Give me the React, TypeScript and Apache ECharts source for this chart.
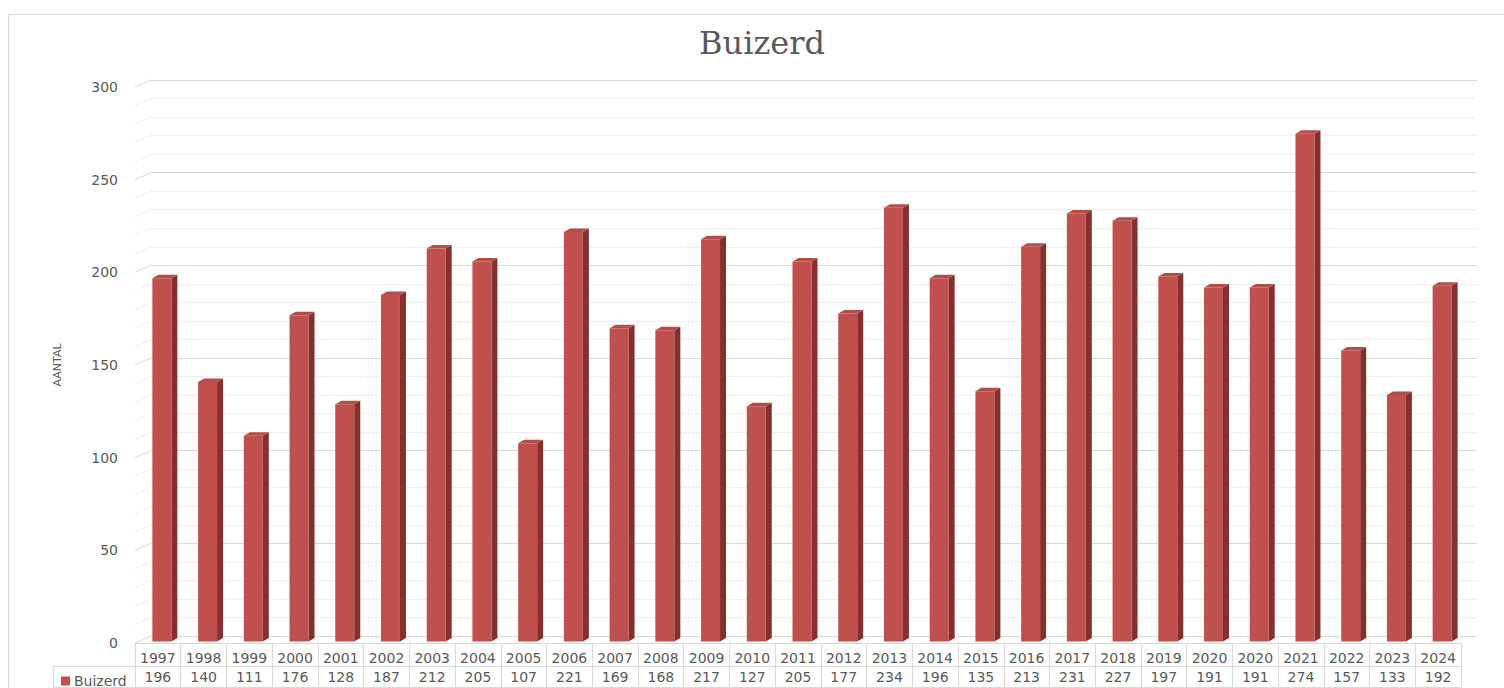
import React, { useEffect, useRef } from "react";
import * as echarts from "echarts";

const seriesName = "Buizerd";
const years = ["1997","1998","1999","2000","2001","2002","2003","2004","2005","2006","2007","2008","2009","2010","2011","2012","2013","2014","2015","2016","2017","2018","2019","2020","2020","2021","2022","2023","2024"];
const counts = [196,140,111,176,128,187,212,205,107,221,169,168,217,127,205,177,234,196,135,213,231,227,197,191,191,274,157,133,192];
const yTicks = [0,10,20,30,40,50,60,70,80,90,100,110,120,130,140,150,160,170,180,190,200,210,220,230,240,250,260,270,280,290,300];

const FRONT = "#c0504d";
const SIDE = "#83302e";
const TOP = "#b84b48";
const TXT = "#595959";
const LINE = "#d9d9d9";
const FONT = "DejaVu Sans";

export default function App() {
  const ref = useRef<HTMLDivElement>(null);
  useEffect(() => {
    document.body.style.margin = "0";
    document.body.style.overflow = "hidden";
    const chart = echarts.init(ref.current!, null, { renderer: "svg" });
    const DX = 16, DY = -7;
    chart.setOption({
      animation: false,
      backgroundColor: "#ffffff",
      title: {
        text: "Buizerd",
        left: 757,
        textAlign: "center",
        top: 22,
        textStyle: { fontFamily: "DejaVu Serif", fontSize: 32, fontWeight: "normal", color: TXT },
      },
      legend: {
        left: 56,
        top: 669,
        icon: "rect",
        itemWidth: 9,
        itemHeight: 9,
        itemGap: 5,
        textStyle: { fontFamily: FONT, fontSize: 14, color: TXT, padding: [0, 0, 0, -1] },
        data: [{ name: seriesName, itemStyle: { color: FRONT } }],
      },
      graphic: [
        { type: "rect", shape: { x: 8.5, y: 14.5, width: 1510, height: 700 }, style: { fill: "none", stroke: LINE, lineWidth: 1 }, silent: true, z: -10 },
        { type: "rect", shape: { x: 53.5, y: 666.5, width: 82, height: 21 }, style: { fill: "none", stroke: LINE, lineWidth: 1 }, silent: true },
      ],
      grid: [
        { left: 135, right: 43, top: 87, bottom: 45 },
        { left: 135 + DX, right: 43 - DX, top: 87 + DY, bottom: 45 - DY },
      ],
      xAxis: [
        {
          type: "category", gridIndex: 0, data: years, position: "bottom",
          axisLine: { show: true, lineStyle: { color: LINE } },
          axisTick: { show: true, interval: 0, length: 44, lineStyle: { color: LINE } },
          axisLabel: { interval: 0, margin: 8, fontFamily: FONT, fontSize: 14, color: TXT },
          splitLine: { show: false },
        },
        {
          type: "category", gridIndex: 0, data: counts.map(String), position: "bottom", offset: 23,
          axisLine: { show: true, lineStyle: { color: LINE } },
          axisTick: { show: false },
          axisLabel: { interval: 0, margin: 4, fontFamily: FONT, fontSize: 14, color: TXT },
        },
        {
          type: "category", gridIndex: 0, data: years, position: "bottom", offset: 44,
          axisLine: { show: true, lineStyle: { color: LINE } },
          axisTick: { show: false },
          axisLabel: { show: false },
        },
        {
          type: "category", gridIndex: 1, data: years, show: false,
        },
      ],
      yAxis: [
        {
          type: "value", gridIndex: 0, min: 0, max: 300, interval: 50,
          axisLine: { show: false }, axisTick: { show: false }, splitLine: { show: false },
          axisLabel: { margin: 17, fontFamily: FONT, fontSize: 14, color: TXT },
          name: "AANTAL", nameLocation: "middle", nameRotate: 90, nameGap: 72,
          nameTextStyle: { fontFamily: FONT, fontSize: 11, color: TXT },
        },
        {
          type: "value", gridIndex: 1, min: 0, max: 300, interval: 10,
          axisLine: { show: false }, axisTick: { show: false }, axisLabel: { show: false },
          splitLine: { show: true, lineStyle: { color: [LINE, "#eeeeee", "#eeeeee", "#eeeeee", "#eeeeee"], width: 1 } },
        },
      ],
      series: [
        {
          type: "custom",
          name: "diagonals",
          xAxisIndex: 0, yAxisIndex: 0,
          silent: true,
          z: 1,
          data: yTicks.map((v) => [0, v]),
          renderItem: (params: any, api: any) => {
            const p = api.coord([0, api.value(1)]);
            const bw = api.size([1, 0])[0];
            const x = p[0] - bw / 2;
            const major = api.value(1) % 50 === 0;
            return {
              type: "line",
              shape: { x1: x, y1: p[1], x2: x + DX, y2: p[1] + DY },
              style: { stroke: major ? LINE : "#eeeeee", lineWidth: 1 },
            };
          },
        },
        {
          type: "custom",
          name: seriesName,
          xAxisIndex: 0, yAxisIndex: 0,
          z: 5,
          itemStyle: { color: FRONT },
          data: counts.map((v, i) => [i, v]),
          renderItem: (params: any, api: any) => {
            const idx = api.value(0);
            const c = api.coord([idx, api.value(1)]);
            const b = api.coord([idx, 0]);
            const bw = api.size([1, 0])[0];
            const w = bw * 0.415;
            const x0 = c[0] - w / 2 + 4;
            const yT = c[1] - 1.5;
            const yB = b[1] - 1.5;
            const dx = 6, dy = -3.5;
            return {
              type: "group",
              children: [
                { type: "polygon", shape: { points: [[x0 + w, yT], [x0 + w + dx, yT + dy], [x0 + w + dx, yB + dy], [x0 + w, yB]] }, style: { fill: SIDE } },
                { type: "polygon", shape: { points: [[x0, yT], [x0 + dx, yT + dy], [x0 + w + dx, yT + dy], [x0 + w, yT]] }, style: { fill: TOP } },
                { type: "rect", shape: { x: x0, y: yT, width: w, height: yB - yT }, style: { fill: FRONT } },
              ],
            };
          },
        },
      ],
    });
    return () => chart.dispose();
  }, []);
  return <div ref={ref} style={{ width: 1504, height: 688 }} />;
}
